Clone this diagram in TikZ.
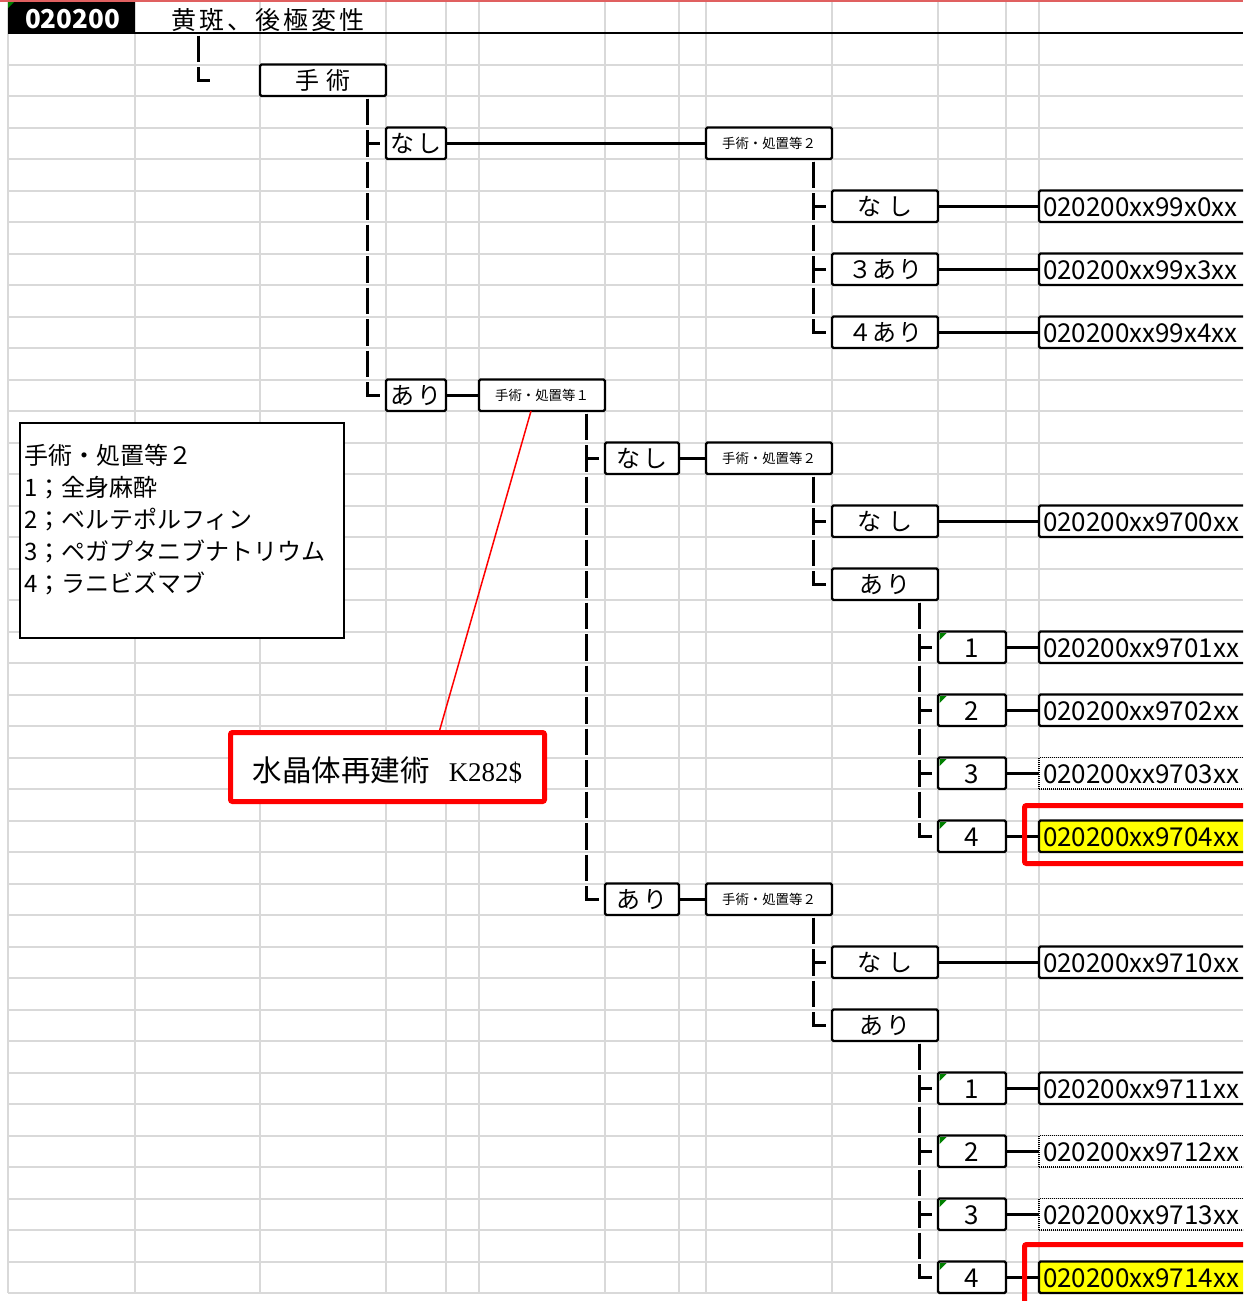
\documentclass[tikz,border=0pt]{standalone}
\usepackage{fontspec}
\usetikzlibrary{calc}
\newfontfamily\jp{Noto Sans CJK JP}
\newfontfamily\serifrm{Liberation Serif}
\definecolor{gridgray}{HTML}{D9D9D9}
\definecolor{xlgreen}{HTML}{008000}
\definecolor{hlred}{HTML}{FF0000}
\definecolor{topred}{HTML}{E06060}
\definecolor{hlyellow}{HTML}{FFFF00}
\newcommand\kgap{\hspace{4pt}}
\newcommand\tgap{\hspace{3pt}}
\begin{document}
\begin{tikzpicture}[x=1pt,y=-1pt,
  grid/.style={draw=gridgray, line width=2pt},
  box/.style={draw, line width=2.2pt, fill=white, rounded corners=1.5pt, inner sep=0pt, outer sep=0pt, minimum height=31.5pt},
  kana/.style={box, font=\jp\fontsize{24}{26}\selectfont, text height=21.1pt, text depth=2.9pt},
  small/.style={box, minimum width=126pt, font=\jp\fontsize{13.4}{15}\selectfont, text height=11.8pt, text depth=1.6pt},
  num/.style={box, minimum width=68pt, font=\jp\fontsize{26}{28}\selectfont, text height=22.9pt, text depth=3.1pt},
  code/.style={box, anchor=west, minimum width=214pt, font=\jp\fontsize{26}{28}\selectfont, text height=22.9pt, text depth=3.1pt},
  codedot/.style={code, draw=black, dash pattern=on 1pt off 1pt, line width=1.5pt, rounded corners=0pt},
  codehl/.style={code, fill=hlyellow},
  tree/.style={draw, line width=3pt, dash pattern=on 26.5pt off 5pt},
  link/.style={draw, line width=2.7pt},
  plain/.style={inner sep=0pt, outer sep=0pt},
  legtext/.style={plain, anchor=base west, font=\jp\fontsize{24}{26}\selectfont},
  hlbox/.style={draw=hlred, line width=5pt, rounded corners=2pt}
]
\clip (0,0) rectangle (1243,1301);
\fill[white] (0,0) rectangle (1243,1301);

% grid
\foreach \x in {8,135,260,386,446,479,605,679,706,832,938,1006,1039}
  \draw[grid] (\x,0) -- (\x,1293);
\foreach \k in {1,...,40}{
  \pgfmathsetmacro\yy{33+31.5*\k}
  \draw[grid] (8,\yy) -- (1243,\yy);
}

% header
\draw[topred, line width=2pt] (0,1) -- (1243,1);
\fill[black] (8,2) rectangle (135,33);
\draw[black, line width=1.5pt] (8,33) -- (1243,33);
\fill[xlgreen] (8,2) -- (14,2) -- (8,8) -- cycle;
\node[plain, anchor=base west, text=white, font=\jp\bfseries\fontsize{26}{28}\selectfont] (dpc) at (25,28.5) {020200};
\node[plain, anchor=base west, font=\jp\fontsize{25}{27}\selectfont] (title) at (171,29.5)
  {黄\tgap 斑\tgap 、\tgap 後\tgap 極\tgap 変\tgap 性};
\coordinate (ttick) at (210,80.25);

% legend
\node[draw, line width=1.3pt, fill=white, minimum width=324pt, minimum height=215pt, inner sep=0pt, outer sep=0pt] (legend) at (182,530.5) {};
\node[legtext] (leg1) at (24,464) {手術・処置等２};
\node[legtext] (leg2) at (24,496) {1；全身麻酔};
\node[legtext] (leg3) at (24,528) {2；ベルテポルフィン};
\node[legtext] (leg4) at (24,560) {3；ペガプタニブナトリウム};
\node[legtext] (leg5) at (24,592) {4；ラニビズマブ};

% tree boxes
\node[kana, minimum width=126pt] (shujutsu) at (323,80.25) {手\hspace{7pt}術};
\node[kana, minimum width=60pt] (nashiA) at (416,143.25) {な\kgap し};
\node[small] (s2a) at (769,143.25) {手術・処置等２};
\node[kana, minimum width=106pt] (nashiB) at (885,206.25) {な\hspace{7pt}し};
\node[kana, minimum width=106pt] (ari3) at (885,269.25) {３\hspace{1pt}あ\hspace{1pt}り};
\node[kana, minimum width=106pt] (ari4) at (885,332.25) {４\hspace{1pt}あ\hspace{1pt}り};
\node[code] (cA0) at (1039,206.25) {\makebox[206pt][l]{020200xx99x0xx}};
\node[code] (cA3) at (1039,269.25) {\makebox[206pt][l]{020200xx99x3xx}};
\node[code] (cA4) at (1039,332.25) {\makebox[206pt][l]{020200xx99x4xx}};

\node[kana, minimum width=60pt] (ariA) at (416,395.25) {あ\kgap り};
\node[small] (s1) at (542,395.25) {手術・処置等１};
\node[kana, minimum width=74pt] (nashiC) at (642,458.25) {な\kgap し};
\node[small] (s2b) at (769,458.25) {手術・処置等２};
\node[kana, minimum width=106pt] (nashiD) at (885,521.25) {な\hspace{7pt}し};
\node[code] (c9700) at (1039,521.25) {\makebox[206pt][l]{020200xx9700xx}};
\node[kana, minimum width=106pt] (ariD) at (885,584.25) {あ\kgap り};
\node[num] (n01) at (972,647.25) {1};
\node[num] (n02) at (972,710.25) {2};
\node[num] (n03) at (972,773.25) {3};
\node[num] (n04) at (972,836.25) {4};
\node[code] (c9701) at (1039,647.25) {\makebox[206pt][l]{020200xx9701xx}};
\node[code] (c9702) at (1039,710.25) {\makebox[206pt][l]{020200xx9702xx}};
\node[codedot] (c9703) at (1039,773.25) {\makebox[206pt][l]{020200xx9703xx}};
\node[codehl] (c9704) at (1039,836.25) {\makebox[206pt][l]{020200xx9704xx}};

\node[kana, minimum width=74pt] (ariC) at (642,899.25) {あ\kgap り};
\node[small] (s2c) at (769,899.25) {手術・処置等２};
\node[kana, minimum width=106pt] (nashiE) at (885,962.25) {な\hspace{7pt}し};
\node[code] (c9710) at (1039,962.25) {\makebox[206pt][l]{020200xx9710xx}};
\node[kana, minimum width=106pt] (ariE) at (885,1025.25) {あ\kgap り};
\node[num] (n11) at (972,1088.25) {1};
\node[num] (n12) at (972,1151.25) {2};
\node[num] (n13) at (972,1214.25) {3};
\node[num] (n14) at (972,1277.25) {4};
\node[code] (c9711) at (1039,1088.25) {\makebox[206pt][l]{020200xx9711xx}};
\node[codedot] (c9712) at (1039,1151.25) {\makebox[206pt][l]{020200xx9712xx}};
\node[codedot] (c9713) at (1039,1214.25) {\makebox[206pt][l]{020200xx9713xx}};
\node[codehl] (c9714) at (1039,1277.25) {\makebox[206pt][l]{020200xx9714xx}};

% green markers
\foreach \n in {n01,n02,n03,n04,n11,n12,n13,n14}
  \fill[xlgreen] ($(\n.north west)+(1.5,1.5)$) -- ++(7,0) -- ++(-7,7) -- cycle;

% tree connectors
\draw[tree] ($(title.base west)+(27,6)$) |- (ttick);
\foreach \c in {nashiA,ariA}
  \draw[tree] ($(shujutsu.south east)+(-19,2.5)$) |- ($(\c.west)+(-6,0)$);
\foreach \c in {nashiB,ari3,ari4}
  \draw[tree] ($(s2a.south east)+(-19,2.5)$) |- ($(\c.west)+(-6,0)$);
\foreach \c in {nashiC,ariC}
  \draw[tree] ($(s1.south east)+(-19,2.5)$) |- ($(\c.west)+(-6,0)$);
\foreach \c in {nashiD,ariD}
  \draw[tree] ($(s2b.south east)+(-19,2.5)$) |- ($(\c.west)+(-6,0)$);
\foreach \c in {n01,n02,n03,n04}
  \draw[tree] ($(ariD.south east)+(-19,2.5)$) |- ($(\c.west)+(-6,0)$);
\foreach \c in {nashiE,ariE}
  \draw[tree] ($(s2c.south east)+(-19,2.5)$) |- ($(\c.west)+(-6,0)$);
\foreach \c in {n11,n12,n13,n14}
  \draw[tree] ($(ariE.south east)+(-19,2.5)$) |- ($(\c.west)+(-6,0)$);

% links
\draw[link] (nashiA.east) -- (s2a.west);
\draw[link] (nashiB.east) -- (cA0.west);
\draw[link] (ari3.east) -- (cA3.west);
\draw[link] (ari4.east) -- (cA4.west);
\draw[link] (ariA.east) -- (s1.west);
\draw[link] (nashiC.east) -- (s2b.west);
\draw[link] (nashiD.east) -- (c9700.west);
\draw[link] (n01.east) -- (c9701.west);
\draw[link] (n02.east) -- (c9702.west);
\draw[link] (n03.east) -- (c9703.west);
\draw[link] (n04.east) -- (c9704.west);
\draw[link] (ariC.east) -- (s2c.west);
\draw[link] (nashiE.east) -- (c9710.west);
\draw[link] (n11.east) -- (c9711.west);
\draw[link] (n12.east) -- (c9712.west);
\draw[link] (n13.east) -- (c9713.west);
\draw[link] (n14.east) -- (c9714.west);

% callout
\node[draw=hlred, line width=5pt, fill=white, rounded corners=2pt, minimum width=314pt, minimum height=69pt, inner sep=0pt, outer sep=0pt] (callout) at (387.5,767) {};
\node[plain, anchor=base] (callouttext) at (387.5,781)
  {{\jp\fontsize{29.5}{31}\selectfont 水晶体再建術}\hspace{19pt}{\serifrm\fontsize{27}{29}\selectfont K282\$}};
\draw[hlred, line width=1.5pt] ($(s1.south)+(-11,0)$) -- ($(callout.north)+(51.5,0)$);

% highlight frames
\draw[hlbox] (1024.5,805.5) rectangle (1262,863.5);
\draw[hlbox] (1024.5,1244.5) rectangle (1262,1330);
\end{tikzpicture}
\end{document}
